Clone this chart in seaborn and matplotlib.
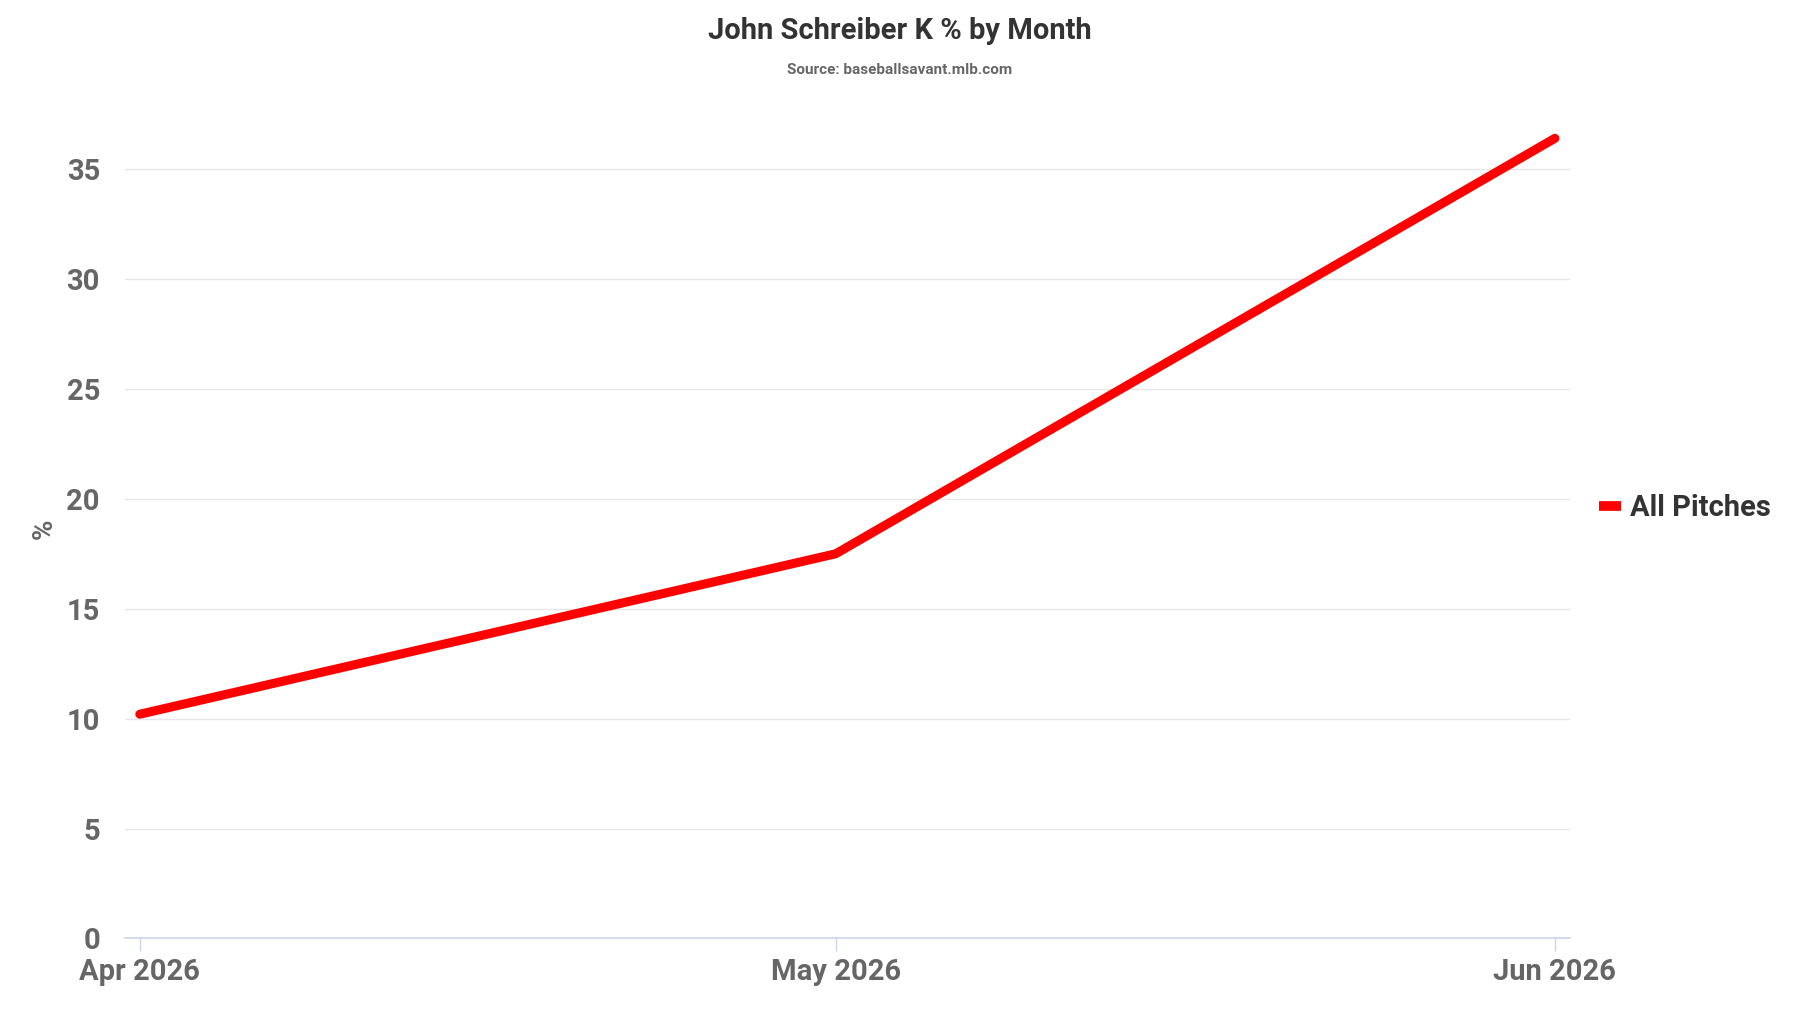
import pandas as pd
import matplotlib
matplotlib.use('Agg')
import matplotlib.pyplot as plt
import matplotlib.dates as mdates
import seaborn as sns

# Data
months = ['2026-04-01', '2026-05-01', '2026-06-01']
k_pct = [10.2, 17.5, 36.4]
series_name = 'All Pitches'

df = pd.DataFrame({'month': pd.to_datetime(months), 'k_pct': k_pct, 'series': series_name})

sns.set_theme(style='white')
plt.rcParams['font.family'] = ['Roboto', 'DejaVu Sans']

fig = plt.figure(figsize=(18, 10.13), dpi=100)
ax = fig.add_axes([0.0694, 0.0736, 0.8027, 0.8094])

sns.lineplot(data=df, x='month', y='k_pct', hue='series', palette=['#ff0000'],
             linewidth=6.5, solid_capstyle='round', solid_joinstyle='round', ax=ax)

ax.set_ylim(0, 37.3)
ax.margins(x=0.0105)
ax.set_yticks([0, 5, 10, 15, 20, 25, 30, 35])
ax.yaxis.grid(True, color='#e6e6e6', linewidth=1)
ax.xaxis.grid(False)

ax.set_xticks(df['month'])
ax.xaxis.set_major_formatter(mdates.DateFormatter('%b %Y'))

for side in ['top', 'right', 'left']:
    ax.spines[side].set_visible(False)
ax.spines['bottom'].set_color('#ccd6eb')
ax.spines['bottom'].set_linewidth(1.2)

ax.tick_params(axis='y', length=0, pad=18, labelsize=21, labelcolor='#666666')
ax.tick_params(axis='x', length=9, width=1, color='#ccd6eb', pad=5,
               labelsize=21, labelcolor='#666666', bottom=True)
for lbl in ax.get_xticklabels() + ax.get_yticklabels():
    lbl.set_fontweight('bold')

ax.set_xlabel('')
ax.set_ylabel('%', fontsize=20, fontweight='bold', color='#666666', labelpad=6)

fig.text(0.5, 0.969, 'John Schreiber K % by Month', ha='center', va='center',
         fontsize=21, fontweight='bold', color='#333333')
fig.text(0.5, 0.931, 'Source: baseballsavant.mlb.com', ha='center', va='center',
         fontsize=11, fontweight='bold', color='#666666')

leg = ax.legend(loc='center left', bbox_to_anchor=(1.002, 0.525), frameon=False,
                handlelength=0.75, handletextpad=0.3, fontsize=21)
for h in leg.get_lines():
    h.set_linewidth(7)
    h.set_solid_capstyle('butt')
for t in leg.get_texts():
    t.set_fontweight('bold')
    t.set_color('#333333')

fig.savefig('out.png', dpi=100)
